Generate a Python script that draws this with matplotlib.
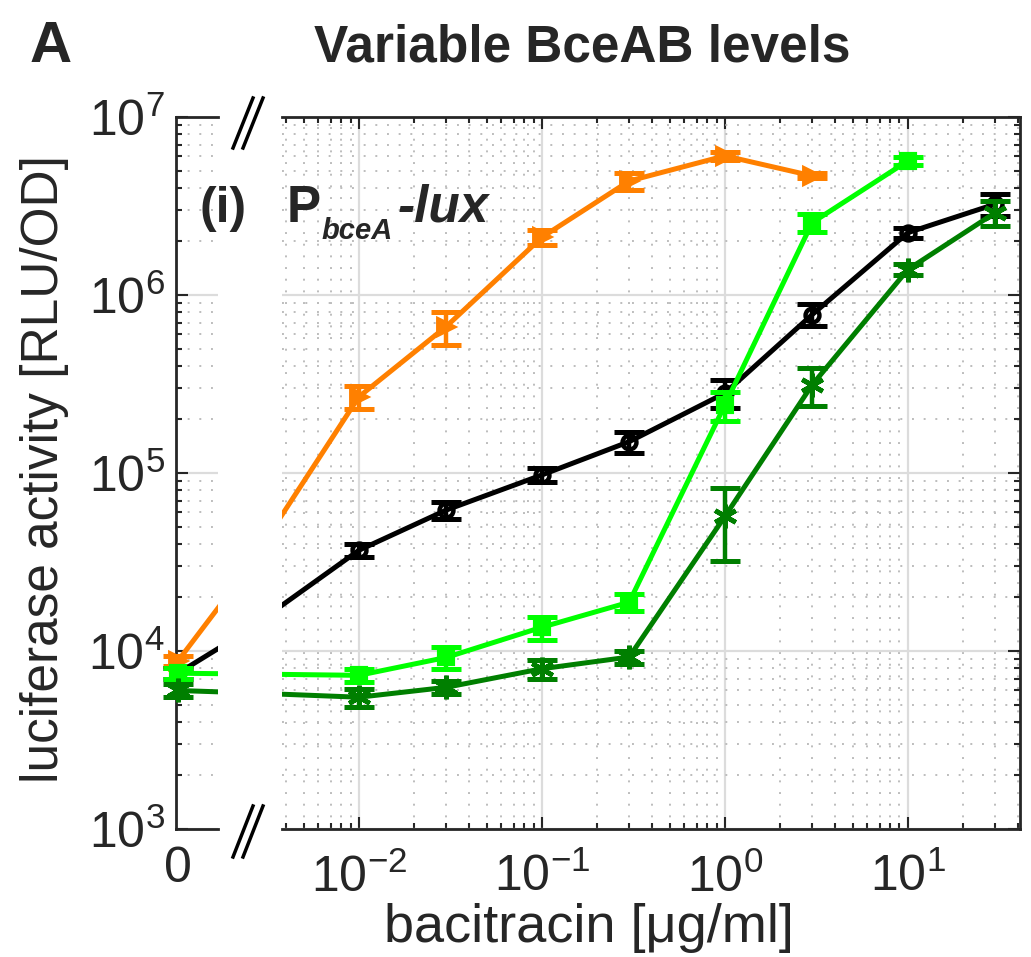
import numpy as np
import matplotlib
matplotlib.use('Agg')
import matplotlib.pyplot as plt
from matplotlib import font_manager
from matplotlib.ticker import LogLocator, FuncFormatter, NullFormatter, FixedLocator
from matplotlib.lines import Line2D

# ---------------- data ----------------
conc_orange = [0, 0.01, 0.03, 0.1, 0.3, 1, 3]
lux_orange = [8800, 268000, 665000, 2.11e6, 4.37e6, 6.05e6, 4.67e6]
err_orange = [600, 40000, 140000, 200000, 500000, 300000, 150000]

conc_black = [0, 0.01, 0.03, 0.1, 0.3, 1, 3, 10, 30]
lux_black = [7500, 36800, 61900, 97500, 150000, 281000, 776000, 2.24e6, 3.24e6]
err_black = [500, 3000, 7000, 9000, 20000, 50000, 110000, 150000, 450000]

conc_lgreen = [0, 0.01, 0.03, 0.1, 0.3, 1, 3, 10]
lux_lgreen = [7500, 7300, 9200, 13600, 18800, 241000, 2.55e6, 5.67e6]
err_lgreen = [500, 600, 1300, 2000, 2000, 45000, 300000, 300000]

conc_dgreen = [0, 0.01, 0.03, 0.1, 0.3, 1, 3, 10, 30]
lux_dgreen = [6000, 5500, 6250, 7950, 9250, 57000, 313000, 1.39e6, 2.9e6]
err_dgreen = [500, 650, 500, 1000, 800, 25000, 75000, 100000, 470000]

y_ticks = [1e3, 1e4, 1e5, 1e6, 1e7]
x_ticks_main = [1e-2, 1e-1, 1e0, 1e1]

title = 'Variable BceAB levels'
xlabel = 'bacitracin [\u03bcg/ml]'
ylabel = 'luciferase activity [RLU/OD]'

# ---------------- fonts ----------------
def has_font(name):
    try:
        font_manager.findfont(font_manager.FontProperties(family=name),
                              fallback_to_default=False)
        return True
    except Exception:
        return False

REG = 'Liberation Sans' if has_font('Liberation Sans') else 'DejaVu Sans'
NARROW = 'Liberation Sans Narrow' if has_font('Liberation Sans Narrow') else REG
plt.rcParams['font.family'] = [REG, 'DejaVu Sans']
plt.rcParams['mathtext.fontset'] = 'custom'
plt.rcParams['mathtext.rm'] = NARROW
plt.rcParams['mathtext.it'] = NARROW + ':italic'
plt.rcParams['mathtext.bf'] = NARROW + ':bold'

TXT = '#262626'
W, H = 1031, 957
fig = plt.figure(figsize=(W / 100, H / 100), dpi=100)

def fx(px):
    return px / W

def fy(py):
    return 1 - py / H

bottom, top = fy(829), fy(117)
ax = fig.add_axes([fx(282), bottom, fx(1020) - fx(282), top - bottom])
axl = fig.add_axes([fx(176), bottom, fx(218) - fx(176), top - bottom])

ZERO_MAIN = 0.00115  # plotting position of the "0" dose on the log axis

series = [
    (conc_orange, lux_orange, err_orange, '#ff8000', '>', 12, '#ff8000', 2.8),
    (conc_black, lux_black, err_black, 'black', 'o', 10, 'none', 3.2),
    (conc_lgreen, lux_lgreen, err_lgreen, '#00ff00', 's', 10, '#00ff00', 3.0),
    (conc_dgreen, lux_dgreen, err_dgreen, '#007f00', (6, 2, 0), 17, 'none', 3.4),
]

for a, is_main in ((ax, True), (axl, False)):
    for k, (xs, ys, es, col, mk, ms, mfc, mew) in enumerate(series):
        xx = np.array([(ZERO_MAIN if v == 0 else v) if is_main else v for v in xs])
        yy = np.array(ys)
        ee = np.array(es)
        a.plot(xx, yy, color=col, lw=3.6, zorder=3 + k, solid_capstyle='butt')
        if is_main:
            sel = np.array(xs) > 0
        else:
            sel = np.array(xs) == 0
        a.errorbar(xx[sel], yy[sel], yerr=ee[sel], fmt='none', ecolor=col,
                   elinewidth=3.2, capsize=11, capthick=3.6, zorder=3 + k,
                   clip_on=False)
        a.plot(xx[sel], yy[sel], ls='none', marker=mk, ms=ms, mfc=mfc, mec=col,
               mew=mew, zorder=3 + k, clip_on=False)

# ---------------- main axis ----------------
ax.set_xscale('log')
ax.set_yscale('log')
ax.set_xlim(0.0038, 41)
ax.set_ylim(1e3, 1e7)
ax.set_axisbelow(True)
ax.xaxis.set_major_locator(FixedLocator(x_ticks_main))
ax.xaxis.set_minor_locator(LogLocator(base=10, subs=np.arange(2, 10), numticks=100))
ax.yaxis.set_major_locator(FixedLocator(y_ticks))
ax.yaxis.set_minor_locator(LogLocator(base=10, subs=np.arange(2, 10), numticks=100))
ax.xaxis.set_major_formatter(FuncFormatter(
    lambda v, p: r'$\mathregular{10^{%d}}$' % int(round(np.log10(v)))))
ax.xaxis.set_minor_formatter(NullFormatter())
ax.yaxis.set_minor_formatter(NullFormatter())
ax.tick_params(axis='both', which='both', direction='in', top=True, right=True,
               left=False, labelleft=False, color=TXT, width=1.5)
ax.tick_params(which='major', length=8.5)
ax.tick_params(which='minor', length=4)
ax.tick_params(axis='x', which='major', pad=18, labelsize=36, labelcolor=TXT)
for lab in ax.get_xticklabels():
    lab.set_fontfamily(NARROW)
ax.grid(True, which='major', color='#dcdcdc', lw=1.6, ls='-')
ax.grid(True, which='minor', color='#bdbdbd', lw=1.4, ls=(0, (1, 5)))
ax.spines['left'].set_visible(False)
for s in ('top', 'bottom', 'right'):
    ax.spines[s].set_color(TXT)
    ax.spines[s].set_linewidth(2)

# ---------------- left (zero) axis ----------------
axl.set_yscale('log')
axl.set_xlim(-0.0001, 0.002)
axl.set_ylim(1e3, 1e7)
axl.set_axisbelow(True)
axl.xaxis.set_major_locator(FixedLocator([0]))
axl.xaxis.set_major_formatter(FuncFormatter(lambda v, p: '0'))
axl.yaxis.set_major_locator(FixedLocator(y_ticks))
axl.yaxis.set_minor_locator(LogLocator(base=10, subs=np.arange(2, 10), numticks=100))
axl.yaxis.set_major_formatter(FuncFormatter(
    lambda v, p: r'$\mathregular{10^{%d}}$' % int(round(np.log10(v)))))
axl.yaxis.set_minor_formatter(NullFormatter())
axl.tick_params(axis='y', which='both', direction='in', left=True, right=False,
                color=TXT, width=1.5)
axl.tick_params(axis='y', which='major', length=8.5, pad=8, labelsize=36,
                labelcolor=TXT)
axl.tick_params(axis='y', which='minor', length=4)
axl.tick_params(axis='x', which='both', length=0, pad=12, labelsize=36,
                labelcolor=TXT)
for lab in axl.get_yticklabels() + axl.get_xticklabels():
    lab.set_fontfamily(NARROW)
axl.grid(True, axis='y', which='major', color='#dcdcdc', lw=1.6, ls='-')
axl.grid(True, axis='y', which='minor', color='#bdbdbd', lw=1.4, ls=(0, (1, 5)))
axl.spines['right'].set_visible(False)
for s in ('top', 'bottom', 'left'):
    axl.spines[s].set_color(TXT)
    axl.spines[s].set_linewidth(2)

# ---------------- axis-break marks ----------------
for (x1, y1, x2, y2) in [(233, 148, 253, 98), (243, 148, 263, 98),
                         (233, 857, 253, 806), (243, 857, 263, 806)]:
    fig.add_artist(Line2D([fx(x1), fx(x2)], [fy(y1), fy(y2)],
                          transform=fig.transFigure, color='black', lw=2.5))

# ---------------- texts ----------------
fig.text(fx(30), fy(62), 'A', fontsize=42, fontweight='bold', color=TXT,
         ha='left', va='baseline', family=REG)
fig.text(fx(582), fy(62), title, fontsize=37, fontweight='bold', color=TXT,
         ha='center', va='baseline', family=REG)
fig.text(fx(200), fy(222), '(i)', fontsize=36, fontweight='bold', color=TXT,
         ha='left', va='baseline', family=REG)
fig.text(fx(287), fy(222), 'P', fontsize=37, fontweight='bold', color=TXT,
         ha='left', va='baseline', family=REG)
fig.text(fx(322), fy(239), 'bceA', fontsize=21, fontweight='bold',
         style='italic', color=TXT, ha='left', va='baseline', family=REG)
fig.text(fx(398), fy(222), '-lux', fontsize=37, fontweight='bold',
         style='italic', color=TXT, ha='left', va='baseline', family=REG)
fig.text(fx(45), fy(469), ylabel, fontsize=37, color=TXT, rotation=90,
         ha='center', va='center', family=REG)
fig.text(fx(589), fy(942), xlabel, fontsize=39, color=TXT,
         ha='center', va='baseline', family=REG)

fig.savefig('out.png', dpi=100)
